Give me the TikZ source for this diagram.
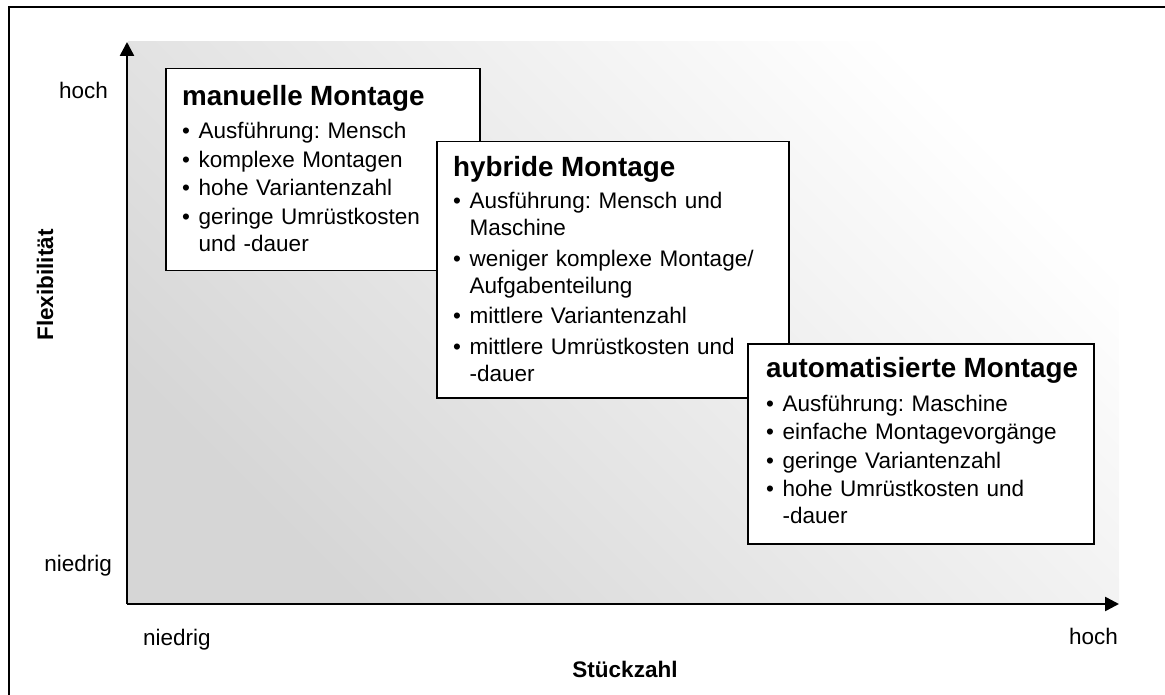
\documentclass[tikz,border=0pt]{standalone}
\usepackage{fontspec}
\setmainfont{Liberation Sans}
\usetikzlibrary{arrows.meta}
\frenchspacing
\newcommand{\bodyfs}{\fontsize{22.5pt}{27pt}\selectfont}
\newcommand{\titlefs}{\fontsize{27.8pt}{32pt}\selectfont\bfseries}
\newcommand{\itm}[1]{\makebox[16.5pt][l]{\textbullet}#1}
\newcommand{\cnt}[1]{\hspace*{16.5pt}#1}
\tikzset{
  panel/.style={draw=black, line width=1.5pt, fill=white, rectangle, anchor=north west, inner sep=0pt},
  boxtext/.style={anchor=base west, inner sep=0pt, text width=330pt, align=left, font=\bodyfs},
  lbl/.style={inner sep=0pt, font=\fontsize{22.5pt}{27pt}\selectfont},
  axlbl/.style={inner sep=0pt, font=\fontsize{22.5pt}{27pt}\selectfont\bfseries},
  axis/.style={line width=2.5pt, -{Triangle[length=14pt,width=14pt]}}
}
\begin{document}
\begin{tikzpicture}[x=1pt,y=-1pt]
\useasboundingbox (0,0) rectangle (1165,695);
% frame (top and left only visible)
\draw[line width=2pt] (9,695) -- (9,7) -- (1165,7);
% gradient background
\shade[top color=white, bottom color={rgb,255:red,214;green,214;blue,214}, shading angle=-45]
  (128,42) rectangle (1119,604);
% axes
\coordinate (O) at (127,604);
\coordinate (ytip) at (127,42);
\coordinate (xtip) at (1119,604);
\draw[axis] (O) -- (ytip);
\draw[axis] (O) -- (xtip);
% axis labels
\node[lbl, anchor=base east] (yhoch) at (108,99) {hoch};
\node[lbl, anchor=base east] (yniedrig) at (112,571) {niedrig};
\node[lbl, anchor=base west] (xniedrig) at (143,645) {niedrig};
\node[lbl, anchor=base east] (xhoch) at (1118,644) {hoch};
\node[axlbl, anchor=base] (xtitle) at (625,677) {Stückzahl};
\node[axlbl, anchor=base, rotate=90] (ytitle) at (53,285) {Flexibilität};
% manuelle Montage
\node[panel, minimum width=314pt, minimum height=202pt] (m) at (165,68) {};
\node[boxtext] (mt) at ([shift={(17,38)}]m.north west) {%
{\titlefs manuelle Montage}\\[6pt]
\itm{Ausführung: Mensch}\\[1.5pt]
\itm{komplexe Montagen}\\[1.5pt]
\itm{hohe Variantenzahl}\\[1.5pt]
\itm{geringe Umrüstkosten}\\
\cnt{und -dauer}};
% hybride Montage
\node[panel, minimum width=352pt, minimum height=256pt] (h) at (436,141) {};
\node[boxtext] (ht) at ([shift={(17,36)}]h.north west) {%
{\titlefs hybride Montage}\\[5pt]
\itm{Ausführung: Mensch und}\\
\cnt{Maschine}\\[3.5pt]
\itm{weniger komplexe Montage/}\\
\cnt{Aufgabenteilung}\\[3.5pt]
\itm{mittlere Variantenzahl}\\[3.5pt]
\itm{mittlere Umrüstkosten und}\\
\cnt{-dauer}};
% automatisierte Montage
\node[panel, minimum width=346pt, minimum height=200pt] (a) at (747,343) {};
\node[boxtext] (at) at ([shift={(19,34)}]a.north west) {%
{\titlefs automatisierte Montage}\\[7pt]
\itm{Ausführung: Maschine}\\[1.5pt]
\itm{einfache Montagevorgänge}\\[1.5pt]
\itm{geringe Variantenzahl}\\[1.5pt]
\itm{hohe Umrüstkosten und}\\
\cnt{-dauer}};
\end{tikzpicture}
\end{document}
